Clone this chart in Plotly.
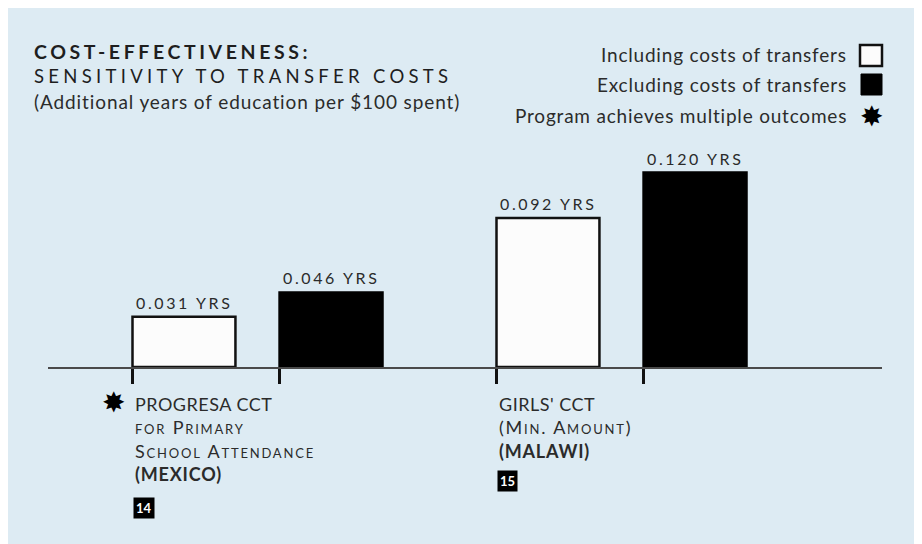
import plotly.graph_objects as go

# ---------------- data ----------------
programs = ["PROGRESA CCT", "GIRLS' CCT"]
program_sub = [["for Primary", "School Attendance"], ["(Min. Amount)"]]
countries = ["(MEXICO)", "(MALAWI)"]
study_ids = ["14", "15"]
multi_outcome = [True, False]
incl_costs = [0.031, 0.092]   # Including costs of transfers
excl_costs = [0.046, 0.120]   # Excluding costs of transfers
series_names = ["Including costs of transfers", "Excluding costs of transfers"]
star_label = "Program achieves multiple outcomes"
unit = "YRS"
title_lines = ["COST-EFFECTIVENESS:", "SENSITIVITY TO TRANSFER COSTS",
               "(Additional years of education per $100 spent)"]

# ---------------- layout geometry (page pixels; page body offsets figure by 8px) ----------------
OFF = 8
W, H = 912, 536
PLOT_X0, PLOT_X1, PLOT_Y0, PLOT_Y1 = 48, 882, 100, 367   # page coords
L, R = PLOT_X0 - OFF, W - (PLOT_X1 - OFF)
T, B = PLOT_Y0 - OFF, H - (PLOT_Y1 - OFF)
PW, PH = W - L - R, H - T - B
BARGAP, GROUPGAP = 0.192, 0.3
slot = (1 - BARGAP) / 2
bw = slot * (1 - GROUPGAP)
PX_PER_UNIT = 1620
YMAX = PH / PX_PER_UNIT
UNIT_PX = 364
XMIN = -(257.5 - PLOT_X0) / UNIT_PX
XMAX = XMIN + PW / UNIT_PX
ID_BOX_GAP = [34, 30]   # vertical gap from country line to study-number box

FONT = "Lato"
TXT = "#2b2b2b"
BG = "#ddebf3"


def px(x):
    return (x - PLOT_X0) / PW


def py(y):
    return (PLOT_Y1 - y) / PH


xs = list(range(len(programs)))
left_edges = []
for i in xs:
    left_edges += [i - slot + (slot - bw) / 2, i + (slot - bw) / 2]

fig = go.Figure()
fig.add_trace(go.Bar(x=xs, y=incl_costs, name=series_names[0],
                     marker=dict(color="#fcfcfc", line=dict(color="#111", width=2.5))))
fig.add_trace(go.Bar(x=xs, y=excl_costs, name=series_names[1],
                     marker=dict(color="#000", line=dict(color="#000", width=2.5))))

ann = []
# value labels
for i in xs:
    for v, off in ((incl_costs[i], -slot / 2), (excl_costs[i], slot / 2)):
        ann.append(dict(x=i + off, y=v, xref="x", yref="y", yanchor="bottom",
                        yshift=3, showarrow=False,
                        text=f"<span style='letter-spacing:2.6px'>{v:.3f} {unit}</span>",
                        font=dict(family=FONT, size=16, color=TXT)))

# category labels
line_step = 23.3
for i in xs:
    x0 = left_edges[2 * i]
    y = 404
    ann.append(dict(x=x0, y=py(y), xref="x", yref="paper", xanchor="left", yanchor="middle",
                    showarrow=False, text=f"<span style='letter-spacing:0.5px'>{programs[i]}</span>",
                    font=dict(family=FONT, size=18, color=TXT)))
    for sub in program_sub[i]:
        y += line_step
        ann.append(dict(x=x0, y=py(y), xref="x", yref="paper", xanchor="left", yanchor="middle",
                        showarrow=False, text=f"<span style='letter-spacing:1.8px'>{sub}</span>",
                        font=dict(family=FONT, size=18, color=TXT, variant="small-caps")))
    y += line_step
    ann.append(dict(x=x0, y=py(y), xref="x", yref="paper", xanchor="left", yanchor="middle",
                    showarrow=False, text=f"<b><span style='letter-spacing:0.8px'>{countries[i]}</span></b>",
                    font=dict(family=FONT, size=18, color=TXT)))
    y += ID_BOX_GAP[i]
    ann.append(dict(x=x0, y=py(y), xref="x", yref="paper", xanchor="left", yanchor="middle",
                    showarrow=False, text=f"<b>{study_ids[i]}</b>", bgcolor="#000",
                    borderpad=2, font=dict(family=FONT, size=13, color="#fff")))
    if multi_outcome[i]:
        ann.append(dict(x=x0, y=py(402), xref="x", yref="paper", xanchor="right", yanchor="middle",
                        xshift=-6, showarrow=False, text="✸",
                        font=dict(family="DejaVu Sans", size=28, color="#000")))

# title
ann.append(dict(x=px(32), y=py(51), xref="paper", yref="paper", xanchor="left", yanchor="middle",
                showarrow=False, text=f"<b><span style='letter-spacing:3.6px'>{title_lines[0]}</span></b>",
                font=dict(family=FONT, size=19.5, color="#1e1e1e")))
ann.append(dict(x=px(32), y=py(76), xref="paper", yref="paper", xanchor="left", yanchor="middle",
                showarrow=False, text=f"<span style='letter-spacing:4.3px'>{title_lines[1]}</span>",
                font=dict(family=FONT, size=18.5, color="#1e1e1e")))
ann.append(dict(x=px(32), y=py(101), xref="paper", yref="paper", xanchor="left", yanchor="middle",
                showarrow=False, text=f"<span style='letter-spacing:0.9px'>{title_lines[2]}</span>",
                font=dict(family=FONT, size=19, color=TXT)))

# legend (text right-aligned, symbols on the right)
leg_rows = [(series_names[0], 55.5), (series_names[1], 85), (star_label, 116.5)]
for label, yc in leg_rows:
    ann.append(dict(x=px(849), y=py(yc - 1), xref="paper", yref="paper", xanchor="right",
                    yanchor="middle", showarrow=False,
                    text=f"<span style='letter-spacing:0.8px'>{label}</span>",
                    font=dict(family=FONT, size=19, color=TXT)))
ann.append(dict(x=px(871.5), y=py(116), xref="paper", yref="paper", xanchor="center",
                yanchor="middle", showarrow=False, text="✸",
                font=dict(family="DejaVu Sans", size=28, color="#000")))

shapes = [
    dict(type="rect", xref="paper", yref="paper", x0=px(860), x1=px(882), y0=py(45), y1=py(66),
         fillcolor="#fcfcfc", line=dict(color="#111", width=2.5)),
    dict(type="rect", xref="paper", yref="paper", x0=px(861), x1=px(882), y0=py(74), y1=py(95),
         fillcolor="#000", line=dict(color="#000", width=1)),
]

fig.update_layout(
    width=W, height=H,
    margin=dict(l=L, r=R, t=T, b=B),
    paper_bgcolor=BG, plot_bgcolor="rgba(0,0,0,0)",
    barmode="group", bargap=BARGAP, bargroupgap=GROUPGAP,
    showlegend=False,
    annotations=ann, shapes=shapes,
    xaxis=dict(range=[XMIN, XMAX], showgrid=False, zeroline=False, showline=True,
               linecolor="#4a4a4a", linewidth=2, ticks="outside", tickvals=left_edges,
               ticklen=15, tickwidth=2.5, tickcolor="#111", showticklabels=False, fixedrange=True),
    yaxis=dict(range=[0, YMAX], visible=False, fixedrange=True),
    font=dict(family=FONT, color=TXT),
)

fig.write_html("out.html", config={"displayModeBar": False})
